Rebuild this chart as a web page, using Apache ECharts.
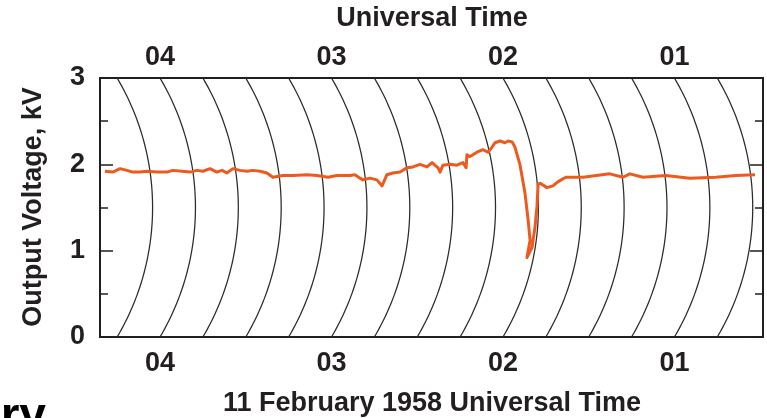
<!DOCTYPE html>
<html>
<head>
<meta charset="utf-8">
<script src="https://cdn.jsdelivr.net/npm/echarts@6.0.0/dist/echarts.min.js"></script>
<style>
html,body{margin:0;padding:0;background:#fff;}
#chart{width:767px;height:418px;}
</style>
</head>
<body>
<div id="chart"></div>
<script>
// Time in minutes after 00:00 UT, 11 February 1958 (axis runs right-to-left)
const traceTimes = [259.3,256.5,254.0,251.6,249.5,247.0,244.6,241.1,237.6,235.5,232.3,229.5,227.1,225.0,222.5,220.1,218.3,216.6,214.5,212.0,209.6,207.5,205.0,202.6,200.5,197.0,193.5,188.6,185.1,181.2,178.1,173.5,171.8,170.0,169.0,166.5,164.1,162.3,160.6,158.5,156.0,153.6,151.5,149.0,146.6,144.8,142.7,142.0,141.0,138.5,136.1,134.0,132.9,132.6,131.5,129.1,127.0,125.2,123.8,122.8,121.0,119.3,118.2,116.8,115.8,114.0,112.3,111.2,110.5,111.6,109.8,108.8,108.1,107.7,107.0,104.6,102.5,100.7,98.0,92.0,82.6,78.0,75.6,71.0,63.0,54.6,45.5,38.5,31.8];
// Output voltage, kV
const traceVolts = [1.92,1.91,1.95,1.93,1.91,1.91,1.92,1.91,1.91,1.93,1.92,1.91,1.93,1.92,1.95,1.91,1.93,1.90,1.95,1.93,1.92,1.93,1.92,1.90,1.85,1.87,1.87,1.88,1.87,1.85,1.87,1.87,1.88,1.84,1.82,1.84,1.82,1.75,1.88,1.90,1.91,1.96,1.97,2.00,1.97,2.02,1.96,1.91,1.99,2.00,1.99,2.02,1.96,2.11,2.09,2.14,2.17,2.14,2.20,2.25,2.27,2.25,2.27,2.26,2.20,1.99,1.67,1.36,1.12,0.92,1.04,1.27,1.51,1.77,1.78,1.73,1.75,1.80,1.85,1.85,1.89,1.85,1.89,1.85,1.87,1.84,1.85,1.87,1.88];
// Recorder chart-paper arc lines (every 15 minutes)
const arcTimes = [45,60,75,90,105,120,135,150,165,180,195,210,225,240,255];
// Hour tick labels
const hourTicks = [60,120,180,240];
const hourLabels = {60:'01',120:'02',180:'03',240:'04'};
const yTicks = [0,1,2,3];

const timeMin = 29, timeMax = 261;
const arcBulgeMin = 12.4;

const FONT = '"Liberation Sans", Arial, Helvetica, sans-serif';
const INK = '#231f20';
const FS = 27;

const chart = echarts.init(document.getElementById('chart'), null, {renderer:'canvas'});

const xCommon = {
  type:'value', min:timeMin, max:timeMax, inverse:true,
  axisLine:{show:false}, axisTick:{show:false}, splitLine:{show:false},
  axisLabel:{
    customValues:hourTicks,
    formatter:v=>hourLabels[v]||'',
    fontFamily:FONT, fontWeight:'bold', fontSize:FS, color:INK
  }
};

const yCommon = {
  type:'value', min:0, max:3, interval:1,
  axisLine:{show:false}, splitLine:{show:false},
  axisTick:{show:true, inside:true, length:13, lineStyle:{color:INK, width:1.5}},
  minorTick:{show:true, splitNumber:2, length:8, lineStyle:{color:INK, width:1.5}},
  minorSplitLine:{show:false}
};

chart.setOption({
  animation:false,
  backgroundColor:'#fff',
  grid:{left:100, right:4, top:78, bottom:81, show:true, borderColor:INK, borderWidth:2, backgroundColor:'transparent'},
  xAxis:[
    Object.assign({}, xCommon, {position:'bottom', axisLabel:Object.assign({}, xCommon.axisLabel, {margin:13})}),
    Object.assign({}, xCommon, {position:'top', axisLabel:Object.assign({}, xCommon.axisLabel, {margin:7})})
  ],
  yAxis:[
    Object.assign({}, yCommon, {position:'left', axisLabel:{show:true, customValues:yTicks, margin:15, fontFamily:FONT, fontWeight:'bold', fontSize:FS, color:INK}}),
    Object.assign({}, yCommon, {position:'right', axisLabel:{show:false}})
  ],
  graphic:[
    {type:'text', style:{text:'Universal Time', x:432, y:19, align:'center', verticalAlign:'middle', font:'bold '+FS+'px '+FONT, fill:INK}},
    {type:'text', style:{text:'11 February 1958 Universal Time', x:432, y:404, align:'center', verticalAlign:'middle', font:'bold '+FS+'px '+FONT, fill:INK}},
    {type:'text', rotation:Math.PI/2, x:34, y:207, style:{text:'Output Voltage, kV', x:0, y:0, align:'center', verticalAlign:'middle', font:'bold '+FS+'px '+FONT, fill:INK}},
    {type:'text', style:{text:'ry', x:46, y:394, align:'right', verticalAlign:'top', font:'bold 48px '+FONT, fill:'#000'}}
  ],
  series:[
    {
      type:'custom', xAxisIndex:0, yAxisIndex:0, clip:true, silent:true, z:1,
      data:arcTimes.map(t=>[t,1.5]),
      encode:{x:0, y:1},
      renderItem:function(params, api){
        const T = api.value(0);
        const top = api.coord([T,3]);
        const bot = api.coord([T,0]);
        const mid = api.coord([T-arcBulgeMin,1.5]);
        const h = (bot[1]-top[1])/2;
        const s = mid[0]-top[0];
        const R = (h*h+s*s)/(2*s);
        const cx = mid[0]-R, cy = (top[1]+bot[1])/2;
        const pts = [];
        const n = 60;
        for(let i=0;i<=n;i++){
          const y = top[1] + i*(2*h)/n;
          const d = y-cy;
          pts.push([cx+Math.sqrt(Math.max(0,R*R-d*d)), y]);
        }
        return {type:'polyline', shape:{points:pts}, style:{stroke:'#2b2b2b', lineWidth:1.25, fill:null}};
      }
    },
    {
      type:'line', xAxisIndex:0, yAxisIndex:0, z:5,
      data:traceTimes.map((t,i)=>[t, traceVolts[i]]),
      showSymbol:false, symbol:'none', smooth:false,
      lineStyle:{color:'#ee5a1e', width:3, join:'round'},
      itemStyle:{color:'#ee5a1e'}
    }
  ]
});
</script>
</body>
</html>
